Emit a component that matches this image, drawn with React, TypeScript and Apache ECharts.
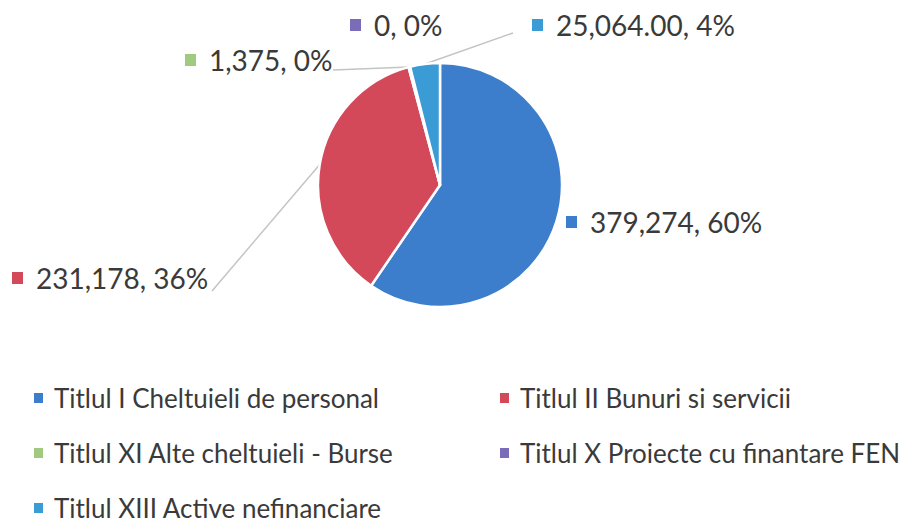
import React, { useEffect, useRef } from "react";
import * as echarts from "echarts";

// ---- data ----
const categories = [
  "Titlul I Cheltuieli de personal",
  "Titlul II Bunuri si servicii",
  "Titlul XI Alte cheltuieli - Burse",
  "Titlul X Proiecte cu finantare FEN",
  "Titlul XIII Active nefinanciare",
];
const values = [379274, 231178, 1375, 0, 25064];
const valueDecimals = [0, 0, 0, 0, 2];

// ---- styles / layout ----
const colors = ["#3c7ecb", "#d4495a", "#9fca80", "#7a6cb8", "#3a9bd5"];
const labelAnchors: [number, number][] = [
  [566, 222],
  [12, 278],
  [185, 60],
  [350, 25],
  [532, 25],
];
const leaderEnds: ([number, number] | null)[] = [null, [212, 291], [333, 70], null, [513, 33]];
const showLeader = [false, true, true, false, true];
const legendColumns = [
  [0, 2, 4],
  [1, 3],
];
const legendLefts = [32, 498];
const FONT = "Lato, 'Open Sans', 'Liberation Sans', sans-serif";
const TEXT_COLOR = "#3a3a3a";

function fmt(v: number, d: number) {
  return v.toLocaleString("en-US", { minimumFractionDigits: d, maximumFractionDigits: d });
}

export default function App() {
  const ref = useRef<HTMLDivElement>(null);
  useEffect(() => {
    document.body.style.margin = "0";
    if (!ref.current) return;
    const chart = echarts.init(ref.current, null, { renderer: "svg" });
    const rich: any = {
      t: { fontSize: 28, fontFamily: FONT, color: TEXT_COLOR, padding: [0, 0, 0, 13] },
    };
    colors.forEach((c, i) => {
      rich["m" + i] = { width: 11, height: 12, backgroundColor: c };
    });
    chart.setOption({
      animation: false,
      backgroundColor: "#ffffff",
      color: colors,
      legend: legendColumns.map((col, k) => ({
        orient: "vertical",
        left: legendLefts[k],
        top: 385,
        height: 200,
        padding: 0,
        itemGap: 29,
        itemWidth: 11,
        itemHeight: 12,
        icon: "rect",
        selectedMode: false,
        data: col.map((i) => categories[i]),
        textStyle: {
          fontFamily: FONT,
          fontSize: 26,
          color: TEXT_COLOR,
          lineHeight: 24,
          padding: [0, 0, 0, 5],
        },
      })),
      series: [
        {
          type: "pie",
          center: [440, 185],
          radius: 122,
          startAngle: 90,
          clockwise: true,
          avoidLabelOverlap: false,
          emphasis: { disabled: true },
          itemStyle: { borderColor: "#ffffff", borderWidth: 2.5 },
          label: {
            show: true,
            position: "outside",
            formatter: (p: any) =>
              `{m${p.dataIndex}|}{t|${fmt(p.value, valueDecimals[p.dataIndex])}, ${Math.round(p.percent)}%}`,
            rich,
          },
          labelLine: {
            show: true,
            length: 10,
            length2: 10,
            lineStyle: { color: "#c4c4c4", width: 1.5 },
          },
          labelLayout: (params: any) => {
            const i = params.dataIndex;
            const [x, y] = labelAnchors[i];
            const out: any = { x, y, align: "left", verticalAlign: "middle" };
            const end = leaderEnds[i];
            if (end && params.labelLinePoints) {
              out.labelLinePoints = [params.labelLinePoints[0], end];
            }
            return out;
          },
          data: categories.map((name, i) => ({
            name,
            value: values[i],
            labelLine: { show: showLeader[i] },
          })),
        },
      ],
    });
    return () => chart.dispose();
  }, []);
  return <div ref={ref} style={{ width: 902, height: 526 }} />;
}
